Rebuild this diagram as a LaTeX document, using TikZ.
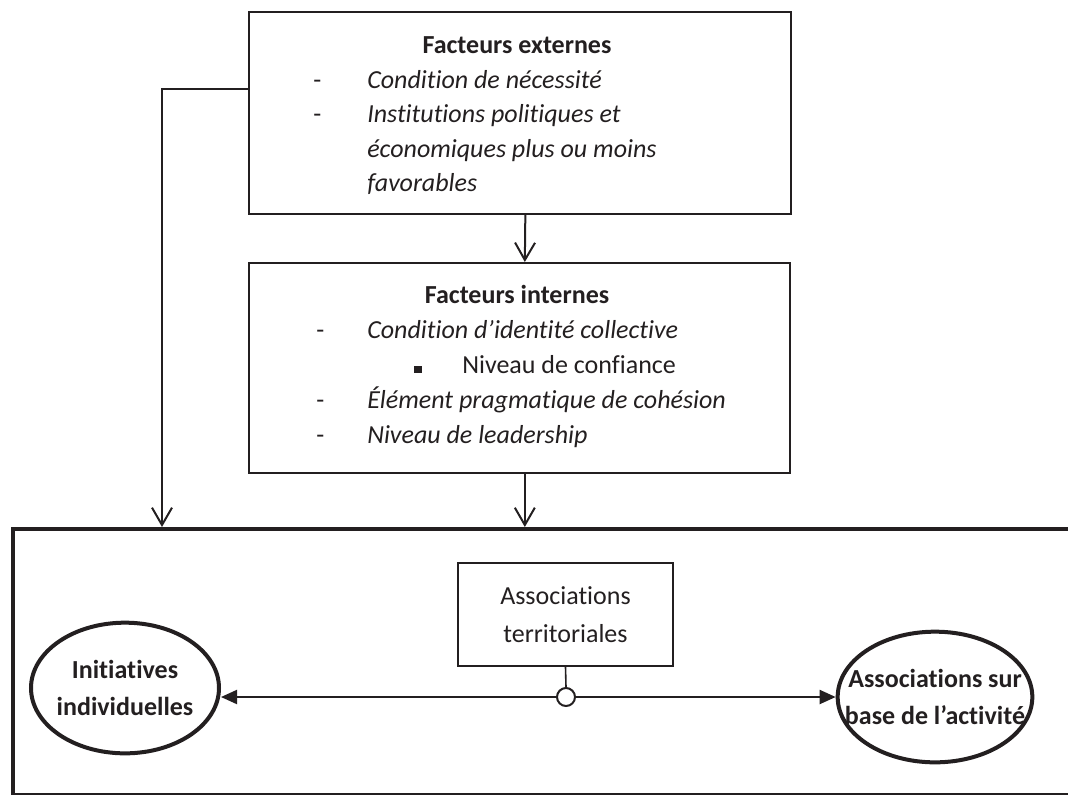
\documentclass[tikz,border=0pt]{standalone}
\usepackage{fontspec}
\setmainfont{Carlito}[Ligatures=NoCommon]
\usetikzlibrary{arrows.meta,shapes.geometric}
\definecolor{ink}{HTML}{231F20}
\newcommand\figfont{\fontsize{19.5}{28}\selectfont}
\tikzset{
  px/.style={x=0.75pt, y=-0.75pt},
  frame/.style={draw=ink, line width=1.5pt, rectangle, inner sep=0pt},
  field/.style={draw=ink, line width=3pt, rectangle, inner sep=0pt},
  oval/.style={draw=ink, ellipse, line width=3pt, inner sep=0pt},
  hub/.style={draw=ink, circle, fill=white, line width=1.5pt, inner sep=0pt, minimum size=13.5pt},
  head/.style={anchor=base, inner sep=0pt, font=\figfont\bfseries},
  txt/.style={anchor=base west, inner sep=0pt, font=\figfont},
  item/.style={txt, font=\figfont\itshape},
  flow/.style={ink, line width=1.5pt, -{Straight Barb[length=13pt, width=15pt]}},
  link/.style={ink, line width=1.5pt, -{Triangle[length=12pt, width=10.5pt]}},
  stem/.style={ink, line width=1.2pt},
}

\begin{document}
\begin{tikzpicture}[px, text=ink, font=\figfont]
  \useasboundingbox (0,0) rectangle (1068,794);

  % --- external factors (top box) ---
  \node[frame, minimum width=406.5pt, minimum height=151.5pt] (ext) at (520,113) {};
  \node[head] (extH) at (517,53) {Facteurs externes};
  \node[txt]  (extD1) at (313,88) {-};
  \node[item] (ext1)  at (367,88) {Condition de nécessité};
  \node[txt]  (extD2) at (313,122) {-};
  \node[item] (ext2)  at (367,122) {Institutions politiques et};
  \node[item] (ext3)  at (367,157) {économiques plus ou moins};
  \node[item] (ext4)  at (367,191) {favorables};

  % --- internal factors (middle box) ---
  \node[frame, minimum width=405.75pt, minimum height=157.5pt] (int) at (519.5,368) {};
  \node[head] (intH) at (517,303) {Facteurs internes};
  \node[txt]  (intD1) at (316,338) {-};
  \node[item] (int1)  at (367,338) {Condition d’identité collective};
  \node[txt]  (intB)  at (414,373) {\rule{5.5pt}{5.5pt}};
  \node[txt]  (int2)  at (462,373) {Niveau de confiance};
  \node[txt]  (intD3) at (316,408) {-};
  \node[item] (int3)  at (367,408) {Élément pragmatique de cohésion};
  \node[txt]  (intD4) at (316,443) {-};
  \node[item] (int4)  at (367,443) {Niveau de leadership};

  % --- outcome area (bottom frame, runs off the page on the right) ---
  \node[field, anchor=north west, minimum width=798pt, minimum height=199.5pt] (area) at (11,527) {};

  \node[frame, line width=1.2pt, minimum width=161.25pt, minimum height=77.25pt, align=center]
    (terr) at (565.5,614.5) {Associations\\territoriales};
  \node[hub] (hub) at (566,697) {};

  \node[oval, minimum width=141pt, minimum height=98pt,
        label={[font=\figfont\bfseries, align=center]center:Initiatives\\individuelles}] (indiv) at (125,688) {};
  \node[oval, minimum width=146pt, minimum height=98pt,
        label={[font=\figfont\bfseries, align=center]center:Associations sur\\base de l’activité}] (activ) at (935,697) {};

  % --- connectors ---
  \coordinate (knee) at (162,89);
  \draw[flow] (ext.west |- knee) -- (knee) -- (knee |- area.north);
  \draw[flow] ([xshift=4pt]ext.south) -- ([xshift=4pt]int.north);
  \draw[flow] ([xshift=4pt]int.south) -- ([xshift=4pt]int.south |- area.north);

  \draw[stem] (terr.south) -- (hub.north);
  \draw[link] (hub.west) -- (hub.west -| indiv.east);
  \draw[link] (hub.east) -- (hub.east -| activ.west);
\end{tikzpicture}
\end{document}
